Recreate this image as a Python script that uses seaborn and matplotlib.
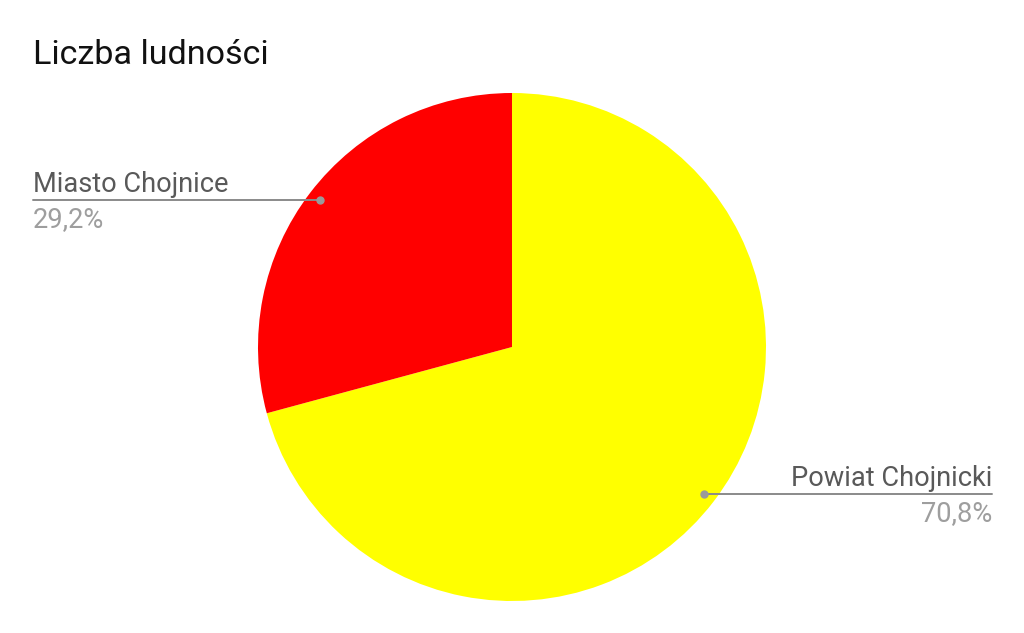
import numpy as np
import matplotlib
matplotlib.use("Agg")
import matplotlib.pyplot as plt
import seaborn as sns

# data
labels = ["Powiat Chojnicki", "Miasto Chojnice"]
shares = [70.8, 29.2]
colors = ["#ffff00", "#ff0000"]

sns.set_theme(style="white")
plt.rcParams["font.family"] = ["Roboto", "DejaVu Sans"]

W, H = 1024, 633
fig = plt.figure(figsize=(W / 100, H / 100), dpi=100)
fig.patch.set_facecolor("white")

# pie geometry in pixels
cx, cy, r = 512, 347, 254
ax = fig.add_axes([(cx - r) / W, (H - cy - r) / H, 2 * r / W, 2 * r / H])
wedges, _ = ax.pie(shares, colors=colors, startangle=90, counterclock=False,
                   radius=1, wedgeprops=dict(linewidth=0))
ax.set_xlim(-1, 1)
ax.set_ylim(-1, 1)
ax.set_aspect("equal")
ax.axis("off")

def px(x):
    return (x - cx) / r

# leader lines + labels
for w, lab, val in zip(wedges, labels, shares):
    ang = np.deg2rad((w.theta1 + w.theta2) / 2)
    dx, dy = 0.95 * np.cos(ang), 0.95 * np.sin(ang)
    left = dx < 0
    xend = px(33) if left else px(992)
    ax.plot([dx, xend], [dy, dy], color="#8a8a8a", lw=1.4, clip_on=False)
    ax.plot([dx], [dy], "o", color="#9a9a9a", ms=5, clip_on=False)
    ha = "left" if left else "right"
    ax.text(xend, dy + 8 / r, lab, ha=ha, va="baseline", fontsize=19.6,
            color="#595959", clip_on=False)
    ax.text(xend, dy - 6 / r, f"{val:.1f}".replace(".", ",") + "%", ha=ha,
            va="top", fontsize=19.6, color="#9e9e9e", clip_on=False)

fig.text(33 / W, 1 - 64 / H, "Liczba ludności", fontsize=24.6, color="#111111",
         ha="left", va="baseline")

fig.savefig("out.png", dpi=100, facecolor="white")
